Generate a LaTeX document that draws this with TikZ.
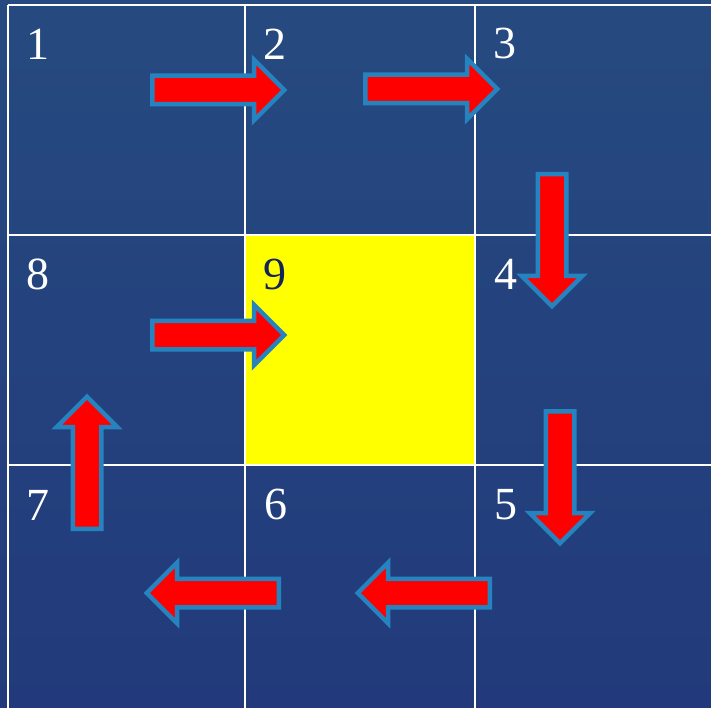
\documentclass[tikz,border=0pt]{standalone}
\usepackage{fontspec}
\setmainfont{Liberation Serif}
\usetikzlibrary{shapes.arrows}
\definecolor{bgtop}{HTML}{264A80}
\definecolor{bgbot}{HTML}{223A7B}
\definecolor{edge}{HTML}{2584BF}
\definecolor{hit}{HTML}{FFFF00}
\definecolor{ink}{HTML}{14235A}
\tikzset{
  num/.style={text=white, font=\fontsize{46}{46}\selectfont, inner sep=0pt},
  move/.style={single arrow, draw=edge, line width=4.5pt, fill=red,
    inner sep=12pt, minimum height=132pt, anchor=tail,
    single arrow head extend=16pt, single arrow head indent=0pt},
  gridline/.style={white, line width=2.8pt},
}

\begin{document}
\begin{tikzpicture}[x=1pt,y=-1pt]
\useasboundingbox (0,0) rectangle (711,708);
\shade[top color=bgtop, bottom color=bgbot] (0,0) rectangle (711,708);

% centre cell
\fill[hit] (245,235) rectangle (475,465);

% grid
\foreach \x in {8,245,475} \draw[gridline] (\x,5) -- (\x,708);
\foreach \y in {5,235,465} \draw[gridline] (8,\y) -- (711,\y);

% cell numbers
\foreach \k/\x/\y in {1/38/44, 2/275/44, 3/505/44, 8/38/274, 4/506/274,
    7/38/505, 6/276/504, 5/506/505}
  \node[num] (n\k) at (\x,\y) {\k};
\node[num, text=ink] (n9) at (275,274) {9};

% spiral of moves, placed by their tails
\node[move] (a12) at (150,90) {};
\node[move] (a23) at (363,89) {};
\node[move, shape border rotate=270] (a34) at (552,172) {};
\node[move, shape border rotate=270] (a45) at (560,409) {};
\node[move, shape border rotate=180] (a56) at (492,593) {};
\node[move, shape border rotate=180] (a67) at (281,593) {};
\node[move, shape border rotate=90] (a78) at (87,531) {};
\node[move] (a89) at (150,335) {};

\end{tikzpicture}
\end{document}
